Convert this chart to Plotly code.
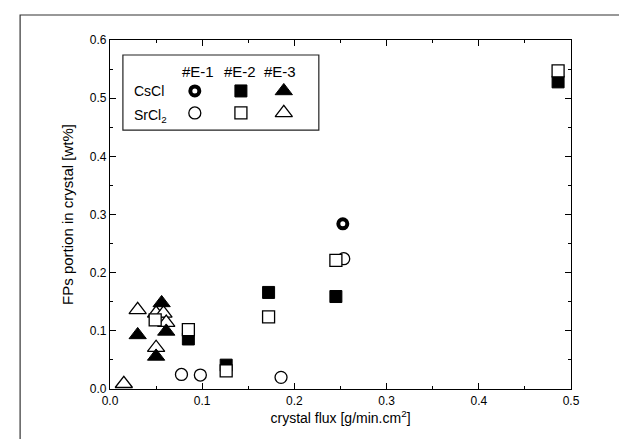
import plotly.graph_objects as go

# ---- data ----
cscl_e1_x = [0.2525]
cscl_e1_y = [0.284]
srcl_e1_x = [0.0775, 0.098, 0.1855, 0.2535]
srcl_e1_y = [0.025, 0.024, 0.020, 0.224]
cscl_e2_x = [0.085, 0.126, 0.172, 0.245, 0.486]
cscl_e2_y = [0.086, 0.041, 0.166, 0.159, 0.528]
srcl_e2_x = [0.049, 0.085, 0.126, 0.172, 0.245, 0.486]
srcl_e2_y = [0.119, 0.102, 0.031, 0.124, 0.221, 0.547]
cscl_e3_x = [0.030, 0.050, 0.056, 0.061]
cscl_e3_y = [0.093, 0.056, 0.148, 0.099]
srcl_e3_x = [0.015, 0.030, 0.050, 0.050, 0.058, 0.061]
srcl_e3_y = [0.009, 0.136, 0.071, 0.130, 0.130, 0.114]

x_ticks = [0.0, 0.1, 0.2, 0.3, 0.4, 0.5]
y_ticks = [0.0, 0.1, 0.2, 0.3, 0.4, 0.5, 0.6]

legend_cols = ["#E-1", "#E-2", "#E-3"]
legend_rows = ["CsCl", "SrCl<sub>2</sub>"]

FONT = "Liberation Sans, Arial, sans-serif"

ring = dict(symbol="circle", size=9, color="white", line=dict(color="black", width=4))
ocirc = dict(symbol="circle", size=12, color="white", line=dict(color="black", width=1.3))
fsq = dict(symbol="square", size=12, color="black", line=dict(color="black", width=1))
osq = dict(symbol="square", size=12, color="white", line=dict(color="black", width=1.3))
ftri = dict(symbol="triangle-up", size=15, color="black", line=dict(color="black", width=1))
otri = dict(symbol="triangle-up", size=15, color="white", line=dict(color="black", width=1.3))

fig = go.Figure()
series = [
    (srcl_e3_x, srcl_e3_y, otri),
    (cscl_e3_x, cscl_e3_y, ftri),
    (srcl_e1_x, srcl_e1_y, ocirc),
    (cscl_e2_x, cscl_e2_y, fsq),
    (srcl_e2_x, srcl_e2_y, osq),
    (cscl_e1_x, cscl_e1_y, ring),
]
for xs, ys, mk in series:
    fig.add_trace(go.Scatter(x=xs, y=ys, mode="markers", marker=mk, showlegend=False,
                             cliponaxis=False))

# legend markers on an overlay axis (paper-like 0..1)
leg_x = [0.184, 0.284, 0.377]
leg_y = [0.854, 0.791]
leg_markers = [[ring, fsq, ftri], [ocirc, osq, otri]]
for ri, row in enumerate(leg_markers):
    for ci, mk in enumerate(row):
        fig.add_trace(go.Scatter(x=[leg_x[ci]], y=[leg_y[ri]], mode="markers", marker=mk,
                                 showlegend=False, xaxis="x2", yaxis="y2"))

axis_common = dict(
    showline=True, linecolor="black", linewidth=1.2, mirror="allticks",
    ticks="inside", ticklen=6, tickwidth=1, tickcolor="black",
    showgrid=False, zeroline=False,
    tickfont=dict(family=FONT, size=12, color="black"),
    minor=dict(ticks="inside", ticklen=3, tickcolor="black", dtick=0.05),
)

fig.update_layout(
    width=627, height=439,
    margin=dict(l=102, r=64, t=32, b=58),
    paper_bgcolor="white", plot_bgcolor="white",
    font=dict(family=FONT, color="black"),
    xaxis=dict(range=[0, 0.5], tickvals=x_ticks, ticktext=[f"{v:.1f}" for v in x_ticks],
               title=dict(text="crystal flux [g/min.cm<sup>2</sup>]", font=dict(size=14), standoff=6),
               **axis_common),
    yaxis=dict(range=[0, 0.6], tickvals=y_ticks, ticktext=[f"{v:.1f}" for v in y_ticks],
               title=dict(text="FPs portion in crystal [wt%]", font=dict(size=15), standoff=12),
               **axis_common),
    xaxis2=dict(range=[0, 1], overlaying="x", visible=False, fixedrange=True),
    yaxis2=dict(range=[0, 1], overlaying="y", visible=False, fixedrange=True),
)

shapes = [
    # outer frame
    dict(type="rect", xref="paper", yref="paper", x0=-0.195, x1=1.130, y0=-0.19, y1=1.0716,
         line=dict(color="#333333", width=1.2), layer="below"),
    # legend box
    dict(type="rect", xref="paper", yref="paper", x0=0.028, x1=0.453, y0=0.742, y1=0.957,
         line=dict(color="#222222", width=1.2), fillcolor="white", layer="below"),
]
fig.update_layout(shapes=shapes)

annos = []
for ci, t in enumerate(legend_cols):
    annos.append(dict(text=t, xref="paper", yref="paper", x=[0.190, 0.283, 0.368][ci], y=0.911,
                      showarrow=False, font=dict(size=15, family=FONT), xanchor="center", yanchor="middle"))
for ri, t in enumerate(legend_rows):
    annos.append(dict(text=t, xref="paper", yref="paper", x=0.048, y=leg_y[ri] - (0.008 if ri else 0),
                      showarrow=False, font=dict(size=14, family=FONT), xanchor="left", yanchor="middle"))
fig.update_layout(annotations=annos)

fig.write_html("out.html")
